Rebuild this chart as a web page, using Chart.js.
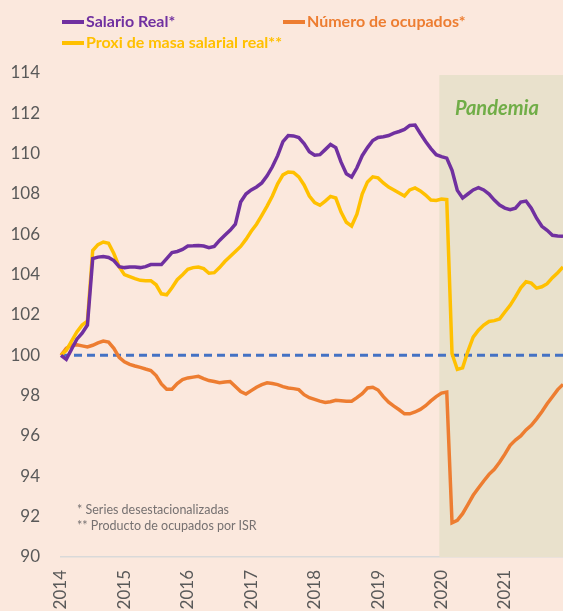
<!DOCTYPE html>
<html>
<head>
<meta charset="utf-8">
<script src="https://cdn.jsdelivr.net/npm/chart.js@4.4.0/dist/chart.umd.min.js"></script>
<style>
  body { margin: 0; background: #fbe8dd; }
  #wrap { position: relative; width: 563px; height: 611px; background: #fbe8dd; overflow: hidden; font-family: Lato, sans-serif; }
  #chart { position: absolute; left: 0; top: 0; }
  .leg { position: absolute; height: 20px; line-height: 20px; font-weight: bold; font-size: 16px; white-space: nowrap; }
  .leg i { display: inline-block; width: 22px; height: 3.5px; vertical-align: middle; margin-right: 2px; position: relative; top: -1px; }
  .note { position: absolute; left: 77px; font-size: 12.5px; color: #767171; white-space: nowrap; }
  #pandemia { position: absolute; left: 455px; top: 95px; font-size: 20px; font-weight: bold; font-style: italic; color: #70ad47; }
</style>
</head>
<body>
<div id="wrap">
  <canvas id="chart" width="563" height="611"></canvas>
  <div class="leg" style="left:62px;top:11px;color:#7030a0"><i style="background:#7030a0"></i>Salario Real*</div>
  <div class="leg" style="left:283px;top:11px;color:#ed7d31"><i style="background:#ed7d31"></i>Número de ocupados*</div>
  <div class="leg" style="left:62px;top:32px;color:#ffc000"><i style="background:#ffc000"></i>Proxi de masa salarial real**</div>
  <div id="pandemia">Pandemia</div>
  <div class="note" style="top:502px">* Series desestacionalizadas</div>
  <div class="note" style="top:518px">** Producto de ocupados por ISR</div>
</div>
<script>
// Monthly index, Jan 2014 = 100
const years = ['2014', '2015', '2016', '2017', '2018', '2019', '2020', '2021'];
const months = ['01', '02', '03', '04', '05', '06', '07', '08', '09', '10', '11', '12'];
const yTicks = { min: 90, max: 114, step: 2 };
const baseLine = 100;
const pandemicStart = 71.6; // index on the month axis where the shaded area begins

const salarioReal = [
    100.0, 99.8, 100.3, 100.8, 101.1, 101.5, 104.8, 104.87, 104.9, 104.85, 104.7, 104.4,
    104.35, 104.38, 104.38, 104.35, 104.4, 104.5, 104.5, 104.5, 104.8, 105.1, 105.15, 105.25,
    105.42, 105.43, 105.45, 105.42, 105.34, 105.4, 105.7, 105.95, 106.2, 106.5, 107.6, 108.0,
    108.2, 108.35, 108.55, 108.9, 109.35, 109.9, 110.6, 110.9, 110.88, 110.8, 110.5, 110.1,
    109.92, 109.95, 110.2, 110.46, 110.3, 109.58, 109.0, 108.84, 109.3, 109.9, 110.3, 110.65,
    110.8, 110.84, 110.9, 111.02, 111.1, 111.2, 111.4, 111.42, 111.0, 110.6, 110.25, 109.95,
    109.85, 109.78, 109.17, 108.18, 107.8, 108.0, 108.2, 108.31, 108.2, 108.0, 107.7, 107.45,
    107.3, 107.22, 107.3, 107.6, 107.65, 107.3, 106.8, 106.4, 106.2, 105.95, 105.92, 105.9
];

const ocupados = [
    100.0, 100.35, 100.5, 100.52, 100.47, 100.42, 100.5, 100.62, 100.71, 100.66, 100.35, 99.9,
    99.68, 99.55, 99.47, 99.4, 99.32, 99.25, 99.0, 98.58, 98.32, 98.32, 98.6, 98.8,
    98.88, 98.92, 98.96, 98.85, 98.75, 98.7, 98.64, 98.68, 98.7, 98.45, 98.2, 98.08,
    98.25, 98.42, 98.55, 98.64, 98.6, 98.55, 98.45, 98.38, 98.35, 98.3, 98.05, 97.9,
    97.82, 97.73, 97.66, 97.7, 97.77, 97.75, 97.72, 97.72, 97.9, 98.1, 98.38, 98.42,
    98.28, 97.95, 97.68, 97.48, 97.3, 97.1, 97.1, 97.19, 97.32, 97.5, 97.74, 97.95,
    98.13, 98.18, 91.7, 91.82, 92.15, 92.6, 93.06, 93.42, 93.77, 94.1, 94.35, 94.7,
    95.1, 95.54, 95.8, 96.0, 96.3, 96.53, 96.85, 97.2, 97.6, 97.95, 98.3, 98.56
];

const masaSalarial = [
    100.0, 100.25, 100.7, 101.16, 101.5, 101.7, 105.2, 105.49, 105.62, 105.56, 105.05, 104.4,
    104.0, 103.9, 103.8, 103.72, 103.7, 103.7, 103.5, 103.05, 103.0, 103.35, 103.75, 104.0,
    104.27, 104.35, 104.38, 104.3, 104.07, 104.1, 104.35, 104.65, 104.9, 105.15, 105.4, 105.75,
    106.15, 106.5, 106.94, 107.4, 107.9, 108.5, 108.95, 109.09, 109.07, 108.85, 108.45, 107.9,
    107.57, 107.44, 107.65, 107.88, 107.8, 107.1, 106.6, 106.41, 107.0, 108.0, 108.6, 108.85,
    108.8, 108.55, 108.34, 108.2, 108.05, 107.9, 108.2, 108.3, 108.15, 107.95, 107.7, 107.68,
    107.75, 107.72, 100.08, 99.3, 99.38, 100.2, 100.9, 101.25, 101.5, 101.68, 101.72, 101.8,
    102.15, 102.48, 102.9, 103.35, 103.65, 103.58, 103.33, 103.4, 103.55, 103.85, 104.1, 104.38
];

const labels = years.flatMap(y => months.map(m => y + '-' + m));
const base = labels.map(() => baseLine);

// shaded pandemic box, drawn behind the lines
const pandemicBox = {
    id: 'pandemicBox',
    beforeDatasetsDraw(chart) {
        const { ctx, chartArea, scales } = chart;
        const x0 = scales.x.getPixelForValue(pandemicStart);
        const y0 = scales.y.getPixelForValue(yTicks.max - 0.1);
        ctx.save();
        ctx.fillStyle = '#e9e1cc';
        ctx.fillRect(x0, y0, chartArea.right - x0 + 1, chartArea.bottom - y0);
        ctx.restore();
    }
};

function line(data, color, extra) {
    return Object.assign({
        data: data,
        borderColor: color,
        borderWidth: 3.5,
        pointRadius: 0,
        tension: 0,
        fill: false
    }, extra || {});
}

new Chart(document.getElementById('chart'), {
    type: 'line',
    data: {
        labels: labels,
        datasets: [
            line(base, '#4472c4', { borderDash: [8, 5], borderWidth: 3, order: 4 }),
            line(ocupados, '#ed7d31', { order: 3 }),
            line(masaSalarial, '#ffc000', { order: 2 }),
            line(salarioReal, '#7030a0', { order: 1 })
        ]
    },
    options: {
        responsive: false,
        animation: false,
        layout: { padding: { top: 73, left: 0, right: 0, bottom: 0 } },
        plugins: { legend: { display: false }, tooltip: { enabled: false } },
        scales: {
            x: {
                type: 'category',
                offset: false,
                grid: { display: false, drawTicks: false },
                border: { display: true, color: '#d9d9d9', width: 1.5 },
                afterFit: s => { s.height = 54; },
                ticks: {
                    autoSkip: false,
                    maxRotation: 90,
                    minRotation: 90,
                    padding: 13,
                    color: '#595959',
                    font: { family: 'Lato', size: 17 },
                    callback: function (v, i) {
                        return i % 12 === 0 ? this.getLabelForValue(v).slice(0, 4) : null;
                    }
                }
            },
            y: {
                min: yTicks.min,
                max: yTicks.max,
                grid: { display: false, drawTicks: false },
                border: { display: false },
                afterFit: s => { s.width = 61; },
                ticks: {
                    stepSize: yTicks.step,
                    padding: 21,
                    color: '#595959',
                    font: { family: 'Lato', size: 17 }
                }
            }
        }
    },
    plugins: [pandemicBox]
});
</script>
</body>
</html>
